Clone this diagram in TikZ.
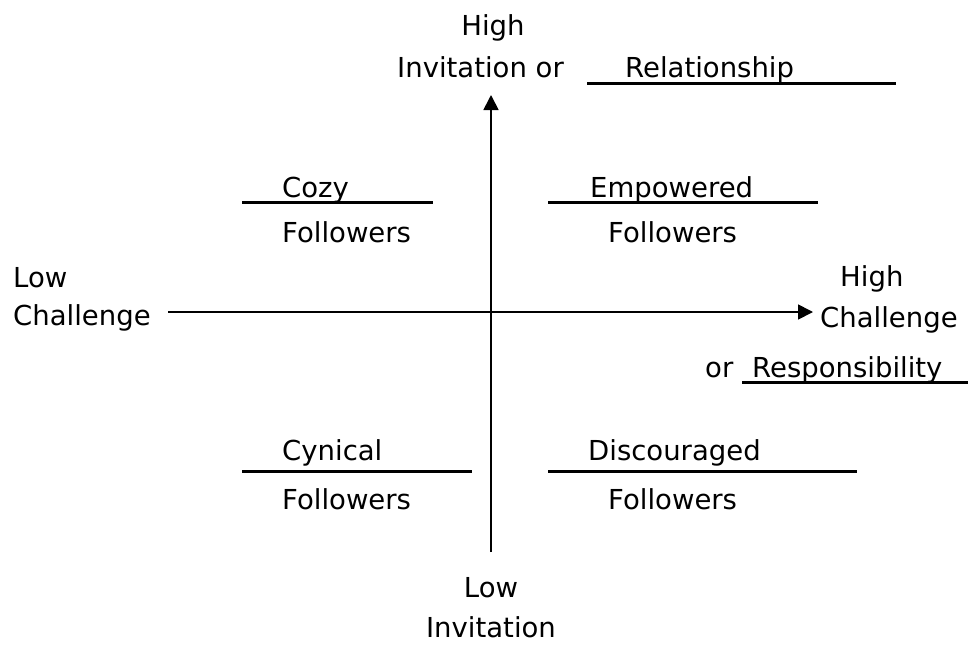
\documentclass[tikz,border=0pt]{standalone}
\usepackage{fontspec}
\setmainfont{DejaVu Sans}
\usetikzlibrary{arrows.meta}
\begin{document}
\begin{tikzpicture}[x=1pt,y=-1pt,
  lbl/.style={anchor=base west,inner sep=0pt,font=\fontsize{27.5}{33}\selectfont},
  clbl/.style={anchor=base,inner sep=0pt,font=\fontsize{27.5}{33}\selectfont},
  axisline/.style={line width=1.7pt,-{Triangle[length=15pt,width=15pt]}},
  uline/.style={line width=3pt}]
\useasboundingbox (0,0) rectangle (968,645);
% axes
\coordinate (xs) at (168,312);
\coordinate (xe) at (813,312);
\coordinate (ys) at (491,552);
\coordinate (ye) at (491,95);
\draw[axisline] (xs) -- (xe);
\draw[axisline] (ys) -- (ye);
% top
\node[clbl] (tHigh) at (493,35) {High};
\node[lbl] (tInv) at (397,77) {Invitation or};
\node[lbl] (tRel) at (625,77) {Relationship};
\coordinate (tU1) at (587,83); \coordinate (tU2) at (896,83);
\draw[uline] (tU1) -- (tU2);
% quadrants top
\node[lbl] (cozy) at (282,197) {Cozy};
\coordinate (cU1) at (242,202); \coordinate (cU2) at (433,202);
\draw[uline] (cU1) -- (cU2);
\node[lbl] (cozyF) at (282,242) {Followers};
\node[lbl] (emp) at (590,197) {Empowered};
\coordinate (eU1) at (548,202); \coordinate (eU2) at (818,202);
\draw[uline] (eU1) -- (eU2);
\node[lbl] (empF) at (608,242) {Followers};
% quadrants bottom
\node[lbl] (cyn) at (282,460) {Cynical};
\coordinate (yU1) at (242,471); \coordinate (yU2) at (472,471);
\draw[uline] (yU1) -- (yU2);
\node[lbl] (cynF) at (282,509) {Followers};
\node[lbl] (dis) at (588,460) {Discouraged};
\coordinate (dU1) at (548,471); \coordinate (dU2) at (857,471);
\draw[uline] (dU1) -- (dU2);
\node[lbl] (disF) at (608,509) {Followers};
% left
\node[lbl] (lLow) at (13,287) {Low};
\node[lbl] (lCh) at (13,325) {Challenge};
% right
\node[lbl] (rHigh) at (840,286) {High};
\node[lbl] (rCh) at (820,327) {Challenge};
\node[lbl] (rOr) at (705,377) {or};
\node[lbl] (rResp) at (752,377) {Responsibility};
\coordinate (rU1) at (742,382); \coordinate (rU2) at (968,382);
\draw[uline] (rU1) -- (rU2);
% bottom
\node[clbl] (bLow) at (491,597) {Low};
\node[clbl] (bInv) at (491,637) {Invitation};
\end{tikzpicture}
\end{document}
